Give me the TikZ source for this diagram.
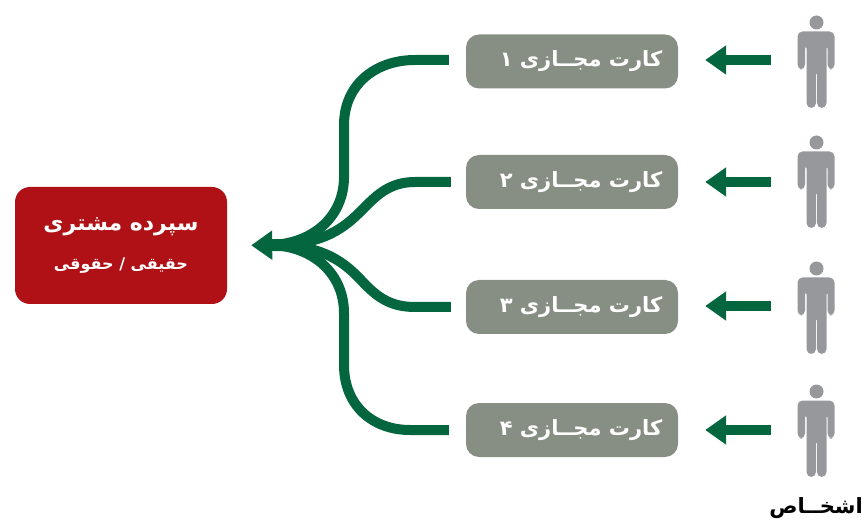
\documentclass[tikz,border=0pt]{standalone}
\usepackage{fontspec}
\usetikzlibrary{arrows.meta}
\TeXXeTstate=1
\newfontfamily\arabicfont[Script=Arabic]{DejaVu Sans}
\definecolor{dgreen}{HTML}{04663F}
\definecolor{dred}{HTML}{B01116}
\definecolor{cardgrey}{HTML}{878F84}
\definecolor{mangrey}{HTML}{97989C}
\newcommand{\cardtext}[1]{\hspace*{18pt}\raisebox{-3pt}{\beginR کارت مجــازی #1\endR}}
\tikzset{
  x=1pt,y=-1pt,
  cardbox/.style={fill=cardgrey,rounded corners=13pt,minimum width=212pt,minimum height=54pt,inner sep=0pt,text=white,font=\arabicfont\bfseries\fontsize{21}{24}\selectfont},
  redbox/.style={fill=dred,rounded corners=15pt,minimum width=212pt,minimum height=117pt,inner sep=0pt,text=white,align=center},
  manbox/.style={minimum width=38pt,minimum height=93pt,inner sep=0pt},
  branch/.style={draw=dgreen,line width=10pt},
  shortarrow/.style={draw=dgreen,line width=10pt,-{Triangle[length=21pt,width=28pt]}},
  headarrow/.style={draw=dgreen,line width=12pt,-{Triangle[length=21pt,width=28pt]}},
  man/.pic={
    \fill[mangrey] (0,-39) circle (7);
    \fill[mangrey,rounded corners=5pt] (-19,-30) -- (18,-30) -- (18,8) -- (11,8) -- (11,-18) -- (10,-18) -- (10,46.5) -- (0.5,46.5) -- (0.5,8) -- (-0.5,8) -- (-0.5,46.5) -- (-10,46.5) -- (-10,-18) -- (-11.5,-18) -- (-11.5,8) -- (-19,8) -- cycle;
  }
}
\begin{document}
\begin{tikzpicture}
\useasboundingbox (0,0) rectangle (865,521);
\node[redbox] (client) at (121,245.5) {{\arabicfont\bfseries\fontsize{22}{26}\selectfont\beginR سپرده مشتری\endR}\\[20pt]{\arabicfont\bfseries\fontsize{16}{18}\selectfont\beginR حقیقی / حقوقی\endR}};
\node[cardbox] (card1) at (572,61.5) {\cardtext{۱}};
\node[cardbox] (card2) at (572,182) {\cardtext{۲}};
\node[cardbox] (card3) at (572,307) {\cardtext{۳}};
\node[cardbox] (card4) at (572,430) {\cardtext{۴}};
\coordinate (hub) at (272,245);
\coordinate (hubin) at (298,245);
\node[manbox] (man1) at (816.5,61.5) {};
\node[manbox] (man2) at (816.5,181.5) {};
\node[manbox] (man3) at (816.5,307.5) {};
\node[manbox] (man4) at (816.5,430.5) {};
\foreach \m in {man1,man2,man3,man4} \pic at (\m) {man};
\draw[shortarrow,shorten <=26pt,shorten >=27pt] ([yshift=1.5pt]man1.west) -- ([yshift=1.5pt]card1.east);
\draw[shortarrow,shorten <=26pt,shorten >=27pt] ([yshift=-0.5pt]man2.west) -- (card2.east);
\draw[shortarrow,shorten <=26pt,shorten >=27pt] ([yshift=1.5pt]man3.west) -- ([yshift=1pt]card3.east);
\draw[shortarrow,shorten <=26pt,shorten >=27pt] ([yshift=0.5pt]man4.west) -- (card4.east);
\draw[headarrow,shorten >=24pt] (hubin) -- (client.east);
\draw[branch,shorten <=17pt] ([yshift=1.5pt]card1.west) -- (415,60) .. controls (375,60) and (344,85) .. (344,125) -- (344,177) .. controls (344,215) and (315,243) .. (hub);
\draw[branch,shorten <=15pt] (card2.west) -- (415,182) .. controls (388,182) and (375,197) .. (360,212) .. controls (340,232) and (318,245) .. (hub);
\draw[branch,shorten <=15pt] (card3.west) -- (415,307) .. controls (388,307) and (375,295) .. (360,279) .. controls (340,258) and (318,245) .. (hub);
\draw[branch,shorten <=17pt] (card4.west) -- (410,430) .. controls (372,430) and (344,405) .. (344,365) -- (344,313) .. controls (344,275) and (315,247) .. (hub);
\node[text=black,font=\arabicfont\bfseries\fontsize{21}{24}\selectfont,inner sep=0pt] (people) at (816,508) {\beginR اشخــاص\endR};
\end{tikzpicture}
\end{document}
